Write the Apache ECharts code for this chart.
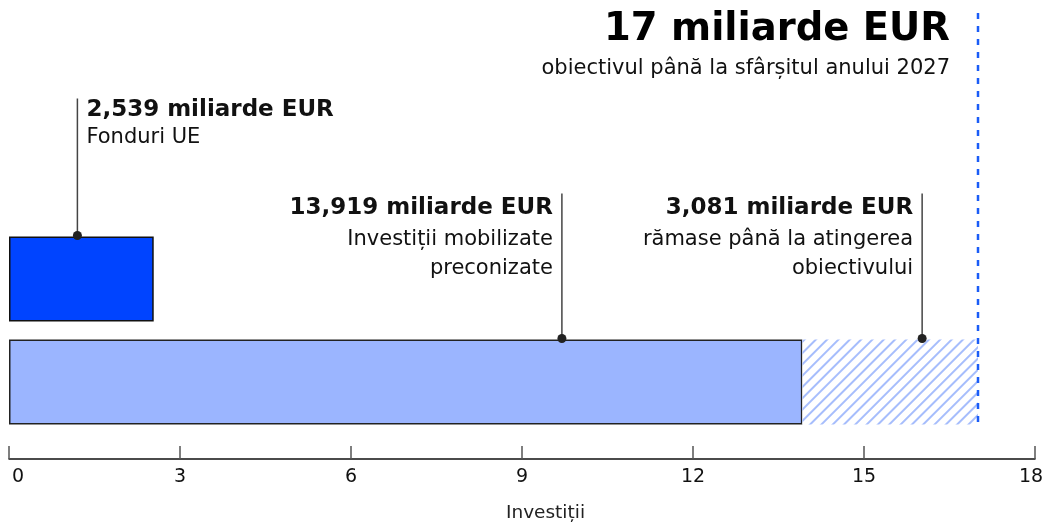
<!DOCTYPE html>
<html>
<head>
<meta charset="utf-8">
<script src="https://cdn.jsdelivr.net/npm/echarts@6/dist/echarts.min.js"></script>
<style>
  html, body { margin: 0; padding: 0; background: #fff; }
  #chart { width: 1049px; height: 526px; }
</style>
</head>
<body>
<div id="chart"></div>
<script>
// Categories from bottom to top of the value axis
const categories = ['Total', 'Fonduri UE'];
// Amounts in billion EUR
const fonduriUE = ['-', 2.539];
const investitiiMobilizate = [13.919, '-'];
const ramaseObiectiv = [3.081, '-'];
const obiectiv2027 = 17;
const axisTicks = [0, 3, 6, 9, 12, 15, 18];
const axisName = 'Investiții';
const unitLabel = 'miliarde EUR';
const noteFonduri = 'Fonduri UE';
const noteMobilizate = 'Investiții mobilizate\npreconizate';
const noteRamase = 'rămase până la atingerea\nobiectivului';
const noteObiectiv = 'obiectivul până la sfârșitul anului 2027';

const FONT = '"DejaVu Sans", "Noto Sans", sans-serif';
const BAR_W = 85;
const INK = '#111';

const fmt = v => v.toFixed(3).replace('.', ',') + ' ' + unitLabel;
const fmtTarget = v => v + ' ' + unitLabel;

// Leader-line callouts: anchor value on the axis, bar row, line length and text offsets
const callouts = [
  { cat: 1, at: 1.2,   value: fonduriUE[1],            note: noteFonduri,    rise: 137, head: 12,   body: 39.5, side: 'right' },
  { cat: 0, at: 9.7,   value: investitiiMobilizate[0], note: noteMobilizate, rise: 145, head: 15,   body: 46,   side: 'left'  },
  { cat: 0, at: 16.02, value: ramaseObiectiv[0],       note: noteRamase,     rise: 145, head: 15,   body: 46,   side: 'left'  }
];
const NOTE_LH = 29.5;

function renderCallout(params, api) {
  const c = callouts[params.dataIndex];
  const p = api.coord([c.at, c.cat]);
  const dotY = p[1] - BAR_W / 2 - 1;
  const topY = dotY - c.rise;
  const tx = c.side === 'right' ? p[0] + 9 : p[0] - 9;
  const align = c.side === 'right' ? 'left' : 'right';
  return {
    type: 'group',
    children: [
      { type: 'line', shape: { x1: p[0], y1: topY, x2: p[0], y2: dotY },
        style: { stroke: '#444', lineWidth: 1.5 } },
      { type: 'circle', shape: { cx: p[0], cy: dotY, r: 4.5 }, style: { fill: '#222' } },
      { type: 'text', x: tx, y: topY + c.head,
        style: { text: fmt(c.value), fill: INK, font: 'bold 23px ' + FONT,
                 align: align, verticalAlign: 'middle' } },
      { type: 'text', x: tx, y: topY + c.body - NOTE_LH / 2,
        style: { text: c.note, fill: INK, font: '21px ' + FONT, lineHeight: NOTE_LH,
                 align: align, verticalAlign: 'top' } }
    ]
  };
}

function renderTarget(params, api) {
  const p = api.coord([api.value(0), 0]);
  const bottomY = p[1] + BAR_W / 2;
  const tx = p[0] - 28;
  return {
    type: 'group',
    children: [
      { type: 'line', shape: { x1: p[0], y1: 13, x2: p[0], y2: bottomY },
        style: { stroke: '#1a5cf7', lineWidth: 2.5, lineDash: [6, 7] } },
      { type: 'text', x: tx, y: 30,
        style: { text: fmtTarget(api.value(0)), fill: '#000', font: 'bold 38.5px ' + FONT,
                 align: 'right', verticalAlign: 'middle' } },
      { type: 'text', x: tx, y: 69,
        style: { text: noteObiectiv, fill: INK, font: '21px ' + FONT,
                 align: 'right', verticalAlign: 'middle' } }
    ]
  };
}

const chart = echarts.init(document.getElementById('chart'), null, { renderer: 'canvas' });

chart.setOption({
  animation: false,
  backgroundColor: '#fff',
  textStyle: { fontFamily: FONT },
  grid: { left: 9, right: 14, top: 227.5, bottom: 92.5, containLabel: false },
  xAxis: {
    type: 'value',
    min: 0, max: 18, interval: 3,
    offset: 25.5,
    splitLine: { show: false },
    axisLine: { show: true, lineStyle: { color: INK, width: 1.5 } },
    axisTick: { show: true, inside: true, length: 13, customValues: axisTicks,
                lineStyle: { color: '#555', width: 1.5 } },
    axisLabel: {
      customValues: axisTicks,
      margin: 9,
      color: INK, fontSize: 19, fontFamily: FONT,
      formatter: v => v === axisTicks[0] ? '{lo|' + v + '}'
                    : v === axisTicks[axisTicks.length - 1] ? '{hi|' + v + '}' : String(v),
      rich: {
        lo: { padding: [0, 0, 0, 18], fontSize: 19, fontFamily: FONT, color: INK },
        hi: { padding: [0, 8, 0, 0], fontSize: 19, fontFamily: FONT, color: INK }
      }
    },
    name: axisName,
    nameLocation: 'middle',
    nameGap: 45,
    nameTextStyle: { fontSize: 18.5, color: '#222', fontFamily: FONT, padding: [0, 0, 0, 47] }
  },
  yAxis: {
    type: 'category',
    data: categories,
    show: false
  },
  series: [
    {
      name: 'Fonduri UE', type: 'bar', stack: 'total', barWidth: BAR_W,
      data: fonduriUE,
      itemStyle: { color: '#0044ff', borderColor: '#111', borderWidth: 1.5 },
      emphasis: { disabled: true }, silent: true
    },
    {
      name: 'Investiții mobilizate', type: 'bar', stack: 'total', barWidth: BAR_W,
      data: investitiiMobilizate,
      itemStyle: { color: '#9bb5ff', borderColor: '#222', borderWidth: 1.5 },
      emphasis: { disabled: true }, silent: true
    },
    {
      name: 'Rămase', type: 'bar', stack: 'total', barWidth: BAR_W,
      data: ramaseObiectiv,
      itemStyle: {
        color: '#fff',
        decal: {
          symbol: 'rect', symbolSize: 1,
          dashArrayX: [1, 0], dashArrayY: [1.2, 5.8],
          rotation: -Math.PI / 4,
          color: '#a6bdfc'
        }
      },
      emphasis: { disabled: true }, silent: true
    },
    {
      name: 'callouts', type: 'custom', renderItem: renderCallout,
      data: callouts.map(c => [c.at, c.cat]), silent: true, z: 10
    },
    {
      name: 'obiectiv', type: 'custom', renderItem: renderTarget,
      data: [[obiectiv2027, 0]], silent: true, z: 9
    }
  ]
});
</script>
</body>
</html>
